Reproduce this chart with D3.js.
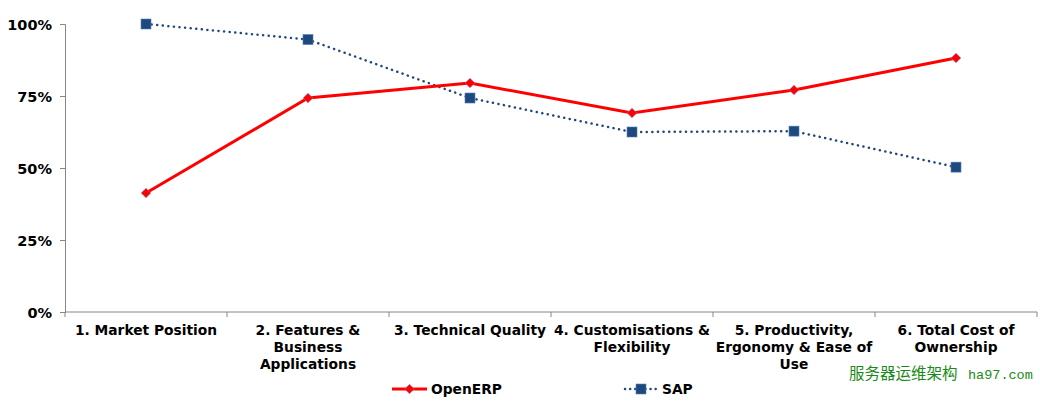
<!DOCTYPE html>
<html><head><meta charset="utf-8">
<script src="https://cdn.jsdelivr.net/npm/d3@7"></script>
<style>
body{margin:0;background:#fff;}
text{font-family:"DejaVu Sans",Verdana,sans-serif;font-weight:bold;fill:#000;}
</style></head>
<body><svg id="c" width="1040" height="401"></svg>
<script>
const categories = [["1. Market Position"],["2. Features &","Business","Applications"],["3. Technical Quality"],["4. Customisations &","Flexibility"],["5. Productivity,","Ergonomy & Ease of","Use"],["6. Total Cost of","Ownership"]];
const openerp = [0.413, 0.743, 0.795, 0.691, 0.771, 0.882];
const sap = [1.0, 0.946, 0.743, 0.625, 0.628, 0.503];
const yTicks = [0, 0.25, 0.5, 0.75, 1];
const seriesNames = ["OpenERP", "SAP"];

const FS = "13.8px";
const svg = d3.select("#c");
const x = d3.scaleBand().domain(d3.range(categories.length)).range([65, 1037]);
const y = d3.scaleLinear().domain([0, 1]).range([312, 24]);
const axisColor = "#868686";

// y axis
const ya = svg.append("g").attr("transform","translate(65,0)")
  .call(d3.axisLeft(y).tickValues(yTicks).tickFormat(d3.format(".0%")).tickSize(5).tickPadding(8));
ya.select(".domain").attr("stroke",axisColor);
ya.selectAll(".tick line").attr("stroke",axisColor);
ya.selectAll("text").attr("font-size","14.5px").attr("font-family","DejaVu Sans").attr("font-weight","bold").attr("fill","#000").attr("dy","0.35em");

// x axis
const xa = svg.append("g").attr("transform","translate(0,312)")
  .call(d3.axisBottom(x).tickSize(0).tickFormat(""));
xa.select(".domain").attr("stroke",axisColor).attr("d","M65,0H1037");
const bounds = d3.range(categories.length+1).map(i => 65 + i*x.step());
xa.selectAll(".bt").data(bounds).enter().append("line")
  .attr("x1",d=>d).attr("x2",d=>d).attr("y1",0).attr("y2",5).attr("stroke",axisColor);
categories.forEach((lines,i)=>{
  const t = svg.append("text").attr("text-anchor","middle").attr("font-size",FS)
    .attr("x", x(i)+x.bandwidth()/2).attr("y", 335);
  lines.forEach((l,j)=> t.append("tspan").attr("x", x(i)+x.bandwidth()/2).attr("y", 335+j*17).text(l));
});

const cx = i => x(i)+x.bandwidth()/2;
const line = d3.line().x((d,i)=>cx(i)).y(d=>y(d));
const diamond = "M0,-4.8L4.8,0L0,4.8L-4.8,0Z";

// SAP
svg.append("path").datum(sap).attr("d",line).attr("fill","none").attr("stroke","#1F497D")
  .attr("stroke-width",2.5).attr("stroke-dasharray","0.1 5.5").attr("stroke-linecap","round");
svg.selectAll(".sm").data(sap).enter().append("rect")
  .attr("x",(d,i)=>cx(i)-5).attr("y",d=>y(d)-5).attr("width",10).attr("height",10)
  .attr("fill","#1F497D").attr("stroke","#4F81BD").attr("stroke-width",0.6);

// OpenERP
svg.append("path").datum(openerp).attr("d",line).attr("fill","none").attr("stroke","#FF0000").attr("stroke-width",3);
svg.selectAll(".om").data(openerp).enter().append("path")
  .attr("d",diamond).attr("transform",(d,i)=>`translate(${cx(i)},${y(d)})`)
  .attr("fill","#FF0000").attr("stroke","#7F7FBF").attr("stroke-width",0.6);

// legend
const lg = svg.append("g");
lg.append("line").attr("x1",392).attr("x2",427).attr("y1",389).attr("y2",389).attr("stroke","#FF0000").attr("stroke-width",3);
lg.append("path").attr("d",diamond).attr("transform","translate(409.5,389)").attr("fill","#FF0000").attr("stroke","#7F7FBF").attr("stroke-width",0.6);
lg.append("text").attr("x",431).attr("y",394).attr("font-size",FS).text(seriesNames[0]);
lg.append("line").attr("x1",625).attr("x2",657).attr("y1",389).attr("y2",389).attr("stroke","#1F497D")
  .attr("stroke-width",2.5).attr("stroke-dasharray","0.1 5").attr("stroke-linecap","round");
lg.append("rect").attr("x",636).attr("y",384).attr("width",10).attr("height",10).attr("fill","#1F497D").attr("stroke","#4F81BD").attr("stroke-width",0.6);
lg.append("text").attr("x",662).attr("y",394).attr("font-size",FS).text(seriesNames[1]);

// watermark
const wm = svg.append("text").attr("x",849).attr("y",379).style("font-weight","normal").style("fill","#1a8a1a");
wm.append("tspan").style("font-family","'Noto Sans CJK SC'").style("font-size","15.5px").text("服务器运维架构");
wm.append("tspan").attr("x",968).style("font-family","'Liberation Mono'").style("font-size","13.5px").text("ha97.com");
</script></body></html>
